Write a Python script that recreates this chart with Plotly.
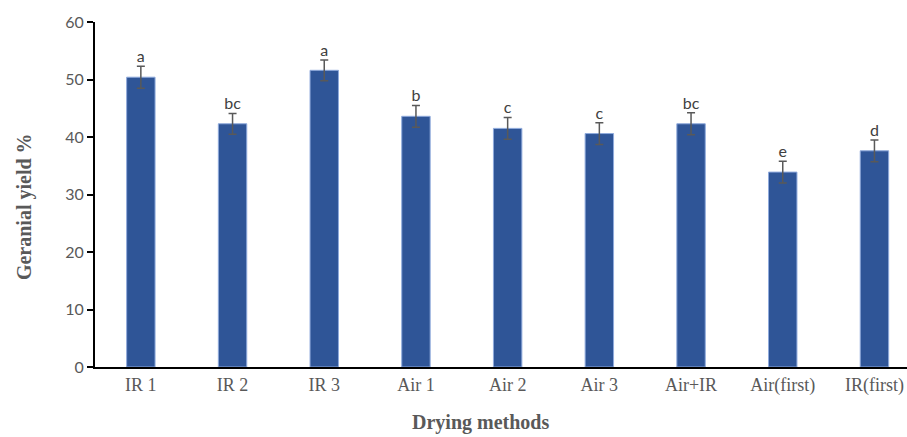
import plotly.graph_objects as go

categories = ["IR 1", "IR 2", "IR 3", "Air 1", "Air 2", "Air 3", "Air+IR", "Air(first)", "IR(first)"]
values = [50.4, 42.3, 51.6, 43.6, 41.5, 40.6, 42.3, 33.9, 37.6]
errors = [1.9, 1.8, 1.8, 1.9, 1.9, 1.9, 1.9, 1.9, 1.9]
letters = ["a", "bc", "a", "b", "c", "c", "bc", "e", "d"]
y_ticks = [0, 10, 20, 30, 40, 50, 60]

fig = go.Figure()
fig.add_trace(go.Bar(
    x=categories, y=values, width=0.31,
    marker=dict(color="#2F5597", line=dict(color="#8FAADC", width=1)),
    error_y=dict(type="data", array=errors, visible=True, color="#595959", thickness=1.5, width=4),
    showlegend=False,
))
fig.add_trace(go.Scatter(
    x=categories, y=[v + e for v, e in zip(values, errors)],
    mode="text", text=letters, textposition="top center",
    textfont=dict(family="Lato, sans-serif", size=16, color="#404040"),
    showlegend=False, hoverinfo="skip",
))

fig.update_layout(
    width=907, height=437,
    margin=dict(l=95, r=0, t=22, b=70),
    plot_bgcolor="white", paper_bgcolor="white",
    xaxis=dict(
        range=[-0.5, 8.355], showline=True, linecolor="black", linewidth=2,
        ticks="", showgrid=False, automargin=False,
        tickfont=dict(family="Liberation Serif, serif", size=18, color="#595959"),
    ),
    yaxis=dict(
        range=[0, 60], tickvals=y_ticks, showline=True, linecolor="black", linewidth=2,
        ticks="outside", ticklen=6, tickwidth=1.5, tickcolor="black", showgrid=False, zeroline=False,
        automargin=False,
        tickfont=dict(family="Lato, sans-serif", size=16, color="#595959"),
    ),
    annotations=[
        dict(text="<b>Drying methods</b>", xref="paper", yref="paper",
             x=0.475, y=-0.2, xanchor="center", yanchor="bottom", showarrow=False,
             font=dict(family="Liberation Serif, serif", size=20, color="#595959")),
        dict(text="<b>Geranial yield %</b>", xref="paper", yref="paper", textangle=-90,
             x=-0.086, y=0.464, xanchor="center", yanchor="middle", showarrow=False,
             font=dict(family="Liberation Serif, serif", size=20, color="#595959")),
    ],
)

fig.write_html("out.html", config={"displayModeBar": False},
               post_script="document.body.style.margin='0';document.body.style.overflow='hidden';")
